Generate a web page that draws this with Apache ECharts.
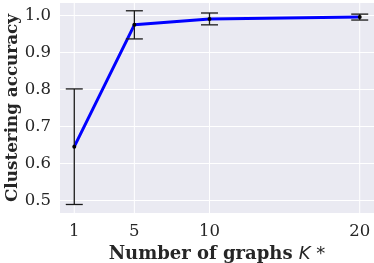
<!DOCTYPE html>
<html><head><meta charset="utf-8">
<script src="https://cdn.jsdelivr.net/npm/echarts@6/dist/echarts.min.js"></script>
<style>html,body{margin:0;padding:0;background:#fff}#c{width:374px;height:263px}</style>
</head><body><div id="c"></div>
<script>
const kValues = [1, 5, 10, 20];
const accMean = [0.645, 0.974, 0.990, 0.995];
const accErr = [0.156, 0.038, 0.016, 0.008];
const xTicks = [1, 5, 10, 20];
const yTicks = [0.5, 0.6, 0.7, 0.8, 0.9, 1.0];

const X_MIN = 0.05, X_MAX = 20.95, Y_MIN = 0.466, Y_MAX = 1.033;
const lineData = kValues.map((k, i) => [k, accMean[i]]);
const errData = kValues.map((k, i) => [k, accMean[i] - accErr[i], accMean[i] + accErr[i], accMean[i]]);

const chart = echarts.init(document.getElementById('c'), null, {renderer: 'canvas'});
const txt = '#262626';
chart.setOption({
  animation: false,
  backgroundColor: '#ffffff',
  grid: {left: 60, top: 3, right: 0, bottom: 50, show: true, backgroundColor: '#EAEAF2', borderWidth: 0,
         outerBoundsMode: 'none', containLabel: false},
  xAxis: {
    type: 'value', min: X_MIN, max: X_MAX,
    name: '{b|Number of graphs }{k|K}{s| *}',
    nameLocation: 'middle', nameGap: 32,
    nameTextStyle: {
      rich: {
        b: {fontFamily: 'DejaVu Serif', fontWeight: 'bold', fontSize: 18, color: txt},
        k: {fontFamily: 'DejaVu Sans', fontStyle: 'italic', fontSize: 18, color: txt},
        s: {fontFamily: 'DejaVu Sans', fontSize: 18, color: txt}
      }
    },
    axisLine: {show: false}, axisTick: {show: false, customValues: xTicks},
    axisLabel: {customValues: xTicks, fontFamily: 'DejaVu Serif', fontSize: 16.5, color: txt, margin: 10},
    splitLine: {show: false}
  },
  yAxis: {
    type: 'value', min: Y_MIN, max: Y_MAX,
    name: 'Clustering accuracy', nameLocation: 'middle', nameGap: 39, nameMoveOverlap: false,
    nameTextStyle: {fontFamily: 'DejaVu Serif', fontWeight: 'bold', fontSize: 16.8, color: txt},
    axisLine: {show: false}, axisTick: {show: false, customValues: yTicks},
    axisLabel: {customValues: yTicks, fontFamily: 'DejaVu Serif', fontSize: 16.5, color: txt, margin: 9,
      formatter: v => v.toFixed(1)},
    splitLine: {show: true, lineStyle: {color: '#ffffff', width: 1}}
  },
  series: [
    {
      type: 'custom', data: xTicks.map(v => [v]), z: 1, silent: true,
      renderItem: function (params, api) {
        const a = api.coord([api.value(0), Y_MIN]);
        const b = api.coord([api.value(0), Y_MAX]);
        return {type: 'line', shape: {x1: a[0], y1: a[1], x2: b[0], y2: b[1]}, style: {stroke: '#ffffff', lineWidth: 1}};
      }
    },
    {
      type: 'line', data: lineData, showSymbol: false, silent: true,
      lineStyle: {color: '#0000ff', width: 3}, z: 2
    },
    {
      type: 'custom', data: errData, z: 3, silent: true,
      renderItem: function (params, api) {
        const x = api.value(0);
        const lo = api.coord([x, api.value(1)]);
        const hi = api.coord([x, api.value(2)]);
        const mid = api.coord([x, api.value(3)]);
        const cw = 8.5;
        const st = {stroke: '#1a1a1a', lineWidth: 1.3};
        return {
          type: 'group',
          children: [
            {type: 'line', shape: {x1: lo[0], y1: lo[1], x2: hi[0], y2: hi[1]}, style: st},
            {type: 'line', shape: {x1: lo[0] - cw, y1: lo[1], x2: lo[0] + cw, y2: lo[1]}, style: st},
            {type: 'line', shape: {x1: hi[0] - cw, y1: hi[1], x2: hi[0] + cw, y2: hi[1]}, style: st},
            {type: 'circle', shape: {cx: mid[0], cy: mid[1], r: 2}, style: {fill: '#000'}}
          ]
        };
      }
    }
  ]
});
</script></body></html>
